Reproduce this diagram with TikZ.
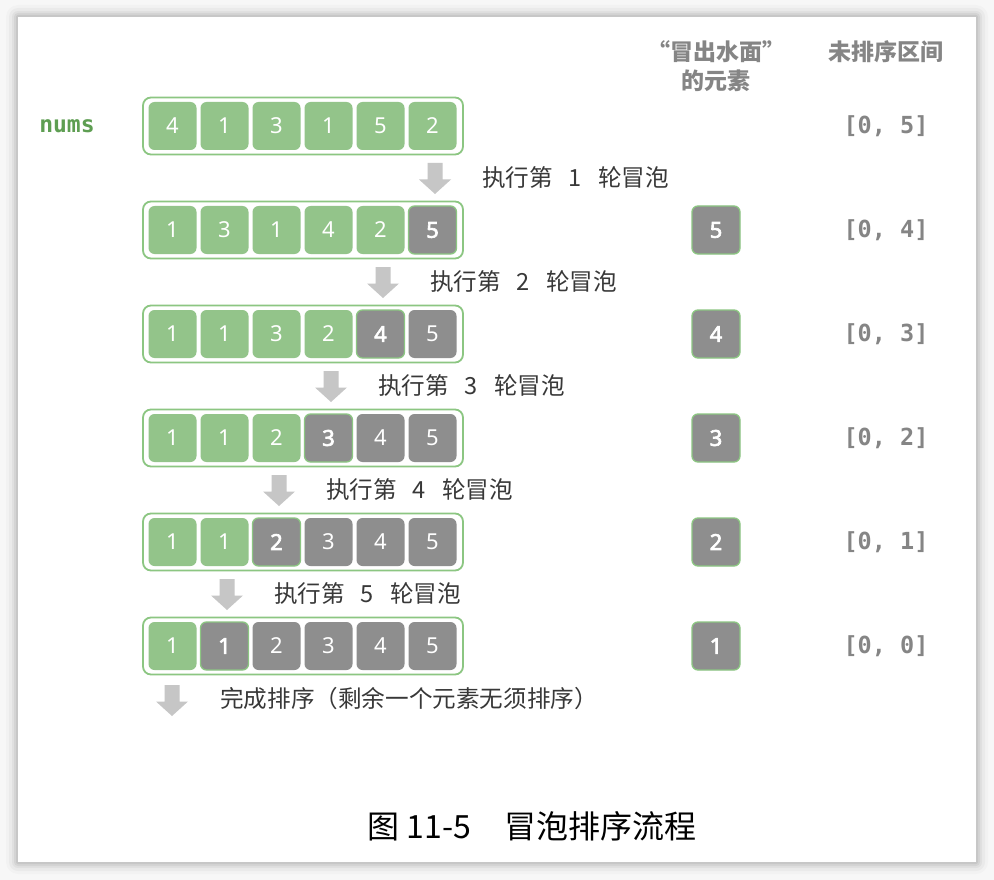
\documentclass[tikz,border=0pt]{standalone}
\usepackage{fontspec}
\setmainfont{Noto Sans}
\newfontfamily\digb{Noto Sans}[FakeBold=3]
\newfontfamily\cjk{Noto Sans CJK SC}
\newfontfamily\monof{DejaVu Sans Mono}
\definecolor{cellg}{HTML}{93C48A}
\definecolor{rowb}{HTML}{8CC682}
\definecolor{cellk}{HTML}{8E8E8E}
\definecolor{arrowc}{HTML}{C6C6C6}
\definecolor{txt}{HTML}{383838}
\definecolor{hdr}{HTML}{858585}
\definecolor{numsg}{HTML}{5E9E52}
\definecolor{bgc}{HTML}{F7F7F7}
\tikzset{
  rowbox/.style={draw=rowb, line width=1.8pt, rounded corners=8pt, minimum width=320pt, minimum height=57pt, inner sep=0pt},
  cellbase/.style={rounded corners=6pt, minimum width=48pt, minimum height=48pt, inner sep=0pt, text=white, font=\fontsize{22}{22}\selectfont},
  gcell/.style={cellbase, fill=cellg},
  kcell/.style={cellbase, fill=cellk},
  ncell/.style={cellbase, fill=cellk, draw=rowb, line width=1.3pt, font=\digb\fontsize{22}{22}\selectfont},
  steptext/.style={anchor=west, text=txt, font=\cjk\fontsize{23.6}{23.6}\selectfont, inner sep=0pt},
  hdrtext/.style={text=hdr, font=\cjk\bfseries\fontsize{23}{29}\selectfont, align=center, inner sep=0pt},
  ivtext/.style={text=hdr, font=\monof\bfseries\fontsize{23.5}{23.5}\selectfont, inner sep=0pt},
  downarr/.pic={\fill[arrowc] (-7.5,-15) -- (7.5,-15) -- (7.5,1.5) -- (16,1.5) -- (0,16) -- (-16,1.5) -- (-7.5,1.5) -- cycle;}
}
\begin{document}
\begin{tikzpicture}[x=1pt, y=-1pt]
\useasboundingbox (0,0) rectangle (994,880);
\fill[bgc] (0,0) rectangle (994,880);
% shadow
\foreach \s/\o in {12/0.02,9/0.03,6/0.04,4/0.05,2/0.06}{
  \fill[black, opacity=\o, rounded corners=\s pt] (18-\s,17-\s) rectangle (976+\s,862+\s);
}
\fill[white] (18,17) rectangle (976,862);

% nums label
\node[text=numsg, font=\monof\bfseries\fontsize{23}{23}\selectfont, inner sep=0pt] (nums) at (67,126) {nums};

% rows
\foreach \r/\vals/\g in {0/{4,1,3,1,5,2}/6, 1/{1,3,1,4,2,5}/5, 2/{1,1,3,2,4,5}/4, 3/{1,1,2,3,4,5}/3, 4/{1,1,2,3,4,5}/2, 5/{1,1,2,3,4,5}/1}{
  \pgfmathsetmacro{\yy}{126+104*\r}
  \node[rowbox] (row\r) at (303,\yy) {};
  \foreach \v [count=\i from 0] in \vals {
    \pgfmathsetmacro{\xx}{172.5+52*\i}
    \ifnum\i<\g
      \node[gcell] (c\r-\i) at (\xx,\yy) {\v};
    \else\ifnum\i=\g
      \node[ncell] (c\r-\i) at (\xx,\yy) {\v};
    \else
      \node[kcell] (c\r-\i) at (\xx,\yy) {\v};
    \fi\fi
  }
  \pgfmathtruncatemacro{\hi}{5-\r}
  \node[ivtext] (iv\r) at (886,\yy) {[0, \hi]};
}

% bubbled elements
\foreach \r/\v in {1/5,2/4,3/3,4/2,5/1}{
  \pgfmathsetmacro{\yy}{126+104*\r}
  \node[ncell] (out\r) at (716,\yy) {\v};
}

% arrows and step labels
\foreach \k in {1,...,5}{
  \pgfmathsetmacro{\ax}{435-52*(\k-1)}
  \pgfmathsetmacro{\ay}{178+104*(\k-1)}
  \pic at (\ax,\ay) {downarr};
  \node[steptext] (st\k) at (\ax+47,\ay) {执行第\hspace{16pt}\k\hspace{16pt}轮冒泡};
}
\pic at (172,700) {downarr};
\node[steptext] (stend) at (220,699) {完成排序（剩余一个元素无须排序）};

% headers
\node[hdrtext] (h1) at (716,66) {“冒出水面”\\的元素};
\node[hdrtext] (h2) at (886,52) {未排序区间};

% caption
\node[font=\cjk\fontsize{32}{32}\selectfont, text=black, inner sep=0pt] (cap) at (532,826) {图 11-5\hspace{1.05em}冒泡排序流程};
\end{tikzpicture}
\end{document}
